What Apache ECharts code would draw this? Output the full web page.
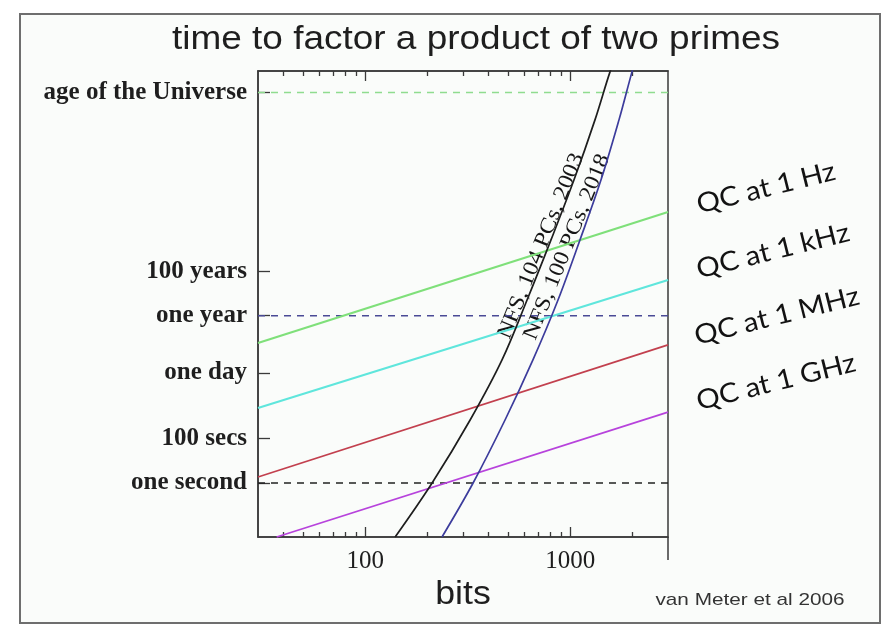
<!DOCTYPE html>
<html><head><meta charset="utf-8">
<script src="https://cdn.jsdelivr.net/npm/echarts@6/dist/echarts.min.js"></script>
<style>html,body{margin:0;padding:0;background:#fff;}#c{width:888px;height:626px;}</style>
</head><body><div id="c"></div>
<script>
// ---- data (bits on x, seconds on y) ----
const bitsRange = [30, 3000];
const timeRange = [0.0038, 2.95e18];
const xMajorTicks = [100, 1000];
const xMinorTicks = [40, 50, 60, 70, 80, 90, 200, 300, 400, 500, 600, 700, 800, 900, 2000];
const yTickValues = [1, 100, 86400, 3.156e7, 3.156e9, 3.2e17];
const yTickNames = ['one second', '100 secs', 'one day', 'one year', '100 years', 'age of the Universe'];
const refLineBits = [30, 3000];
const refLineTimes = [3.2e17, 3.156e7, 1]; // age of universe, one year, one second

const nfs2003Bits = [140, 212, 325, 465, 616, 806, 1044, 1321, 1564, 1750];
const nfs2003Time = [3.8e-3, 1, 668, 3.3e5, 1.6e8, 7.9e10, 3.9e13, 1.9e16, 2.7e18, 4.4e19];
const nfs2018Bits = [237, 336, 481, 658, 872, 1116, 1414, 1730, 2002, 2190];
const nfs2018Time = [3.8e-3, 1, 668, 3.3e5, 1.6e8, 7.9e10, 3.9e13, 1.9e16, 2.7e18, 4.4e19];

const qcBits = [30, 3000];
const qc1HzTime = [1.9e6, 1.4e12];
const qc1kHzTime = [2.3e3, 1.26e9];
const qc1MHzTime = [1.86, 1.55e6];
const qc1GHzBits = [37, 3000];
const qc1GHzTime = [3.8e-3, 1.5e3];

const qcLabels = ['QC at 1 Hz', 'QC at 1 kHz', 'QC at 1 MHz', 'QC at 1 GHz'];
const nfsLabels = ['NFS, 104 PCs, 2003', 'NFS, 100 PCs, 2018'];
const titleText = 'time to factor a product of two primes';
const xName = 'bits';
const creditText = 'van Meter et al 2006';

// ---- helpers ----
const zip = (xs, ys) => xs.map((x, i) => [x, ys[i]]);
const yName = v => {
  let best = 0, bd = Infinity;
  yTickValues.forEach((t, i) => { const d = Math.abs(Math.log10(v) - Math.log10(t)); if (d < bd) { bd = d; best = i; } });
  return yTickNames[best];
};

const chart = echarts.init(document.getElementById('c'));
const G = { left: 258, right: 220, top: 71, bottom: 89 };
const axisColor = '#3a3a3a';
const serif = 'Liberation Serif';

function lineSeries(name, xs, ys, color, width, extra) {
  return Object.assign({
    name, type: 'line', xAxisIndex: 0, yAxisIndex: 0,
    data: zip(xs, ys), showSymbol: false, symbol: 'none', clip: true,
    lineStyle: { color, width }, silent: true, animation: false
  }, extra || {});
}

const refColors = ['#8fdc8f', '#4a4a96', '#222'];

const series = [
  ...refLineTimes.map((t, i) => lineSeries('ref' + i, refLineBits, [t, t], refColors[i], 1.5,
    { lineStyle: { color: refColors[i], width: 1.6, type: [7, 6] } })),
  lineSeries(qcLabels[0], qcBits, qc1HzTime, '#7fe07a', 2.2),
  lineSeries(qcLabels[1], qcBits, qc1kHzTime, '#5fe6dc', 2.2),
  lineSeries(qcLabels[2], qcBits, qc1MHzTime, '#c2404e', 1.8),
  lineSeries(qcLabels[3], qc1GHzBits, qc1GHzTime, '#b743dc', 1.8),
  lineSeries(nfsLabels[0], nfs2003Bits, nfs2003Time, '#1e1e1e', 1.7, { smooth: 0.35 }),
  lineSeries(nfsLabels[1], nfs2018Bits, nfs2018Time, '#3c3c9c', 1.7, { smooth: 0.35 })
];

const qcPos = [[766, 188], [773, 251], [777, 316], [776, 382]];
const nfsPos = [[541, 246], [567, 247]];
const deg = Math.PI / 180;

const graphic = [
  { type: 'rect', z: -10, shape: { x: 20, y: 14, width: 860, height: 609 },
    style: { fill: '#fafcfa', stroke: '#6e6e6e', lineWidth: 2 }, silent: true },
  { type: 'line', shape: { x1: 668, y1: 537, x2: 668, y2: 560 }, style: { stroke: axisColor, lineWidth: 1.5 } },
  ...qcLabels.map((t, i) => ({
    type: 'text', x: qcPos[i][0], y: qcPos[i][1], rotation: 14 * deg, scaleX: 1.08,
    style: { text: t, fill: '#121212', font: '27px Lato', align: 'center', verticalAlign: 'middle' }
  })),
  ...nfsLabels.map((t, i) => ({
    type: 'text', x: nfsPos[i][0], y: nfsPos[i][1], rotation: 68 * deg, scaleX: 1.1,
    style: { text: t, fill: '#161616', font: '22px "Liberation Serif"', align: 'center', verticalAlign: 'middle' }
  })),
  { type: 'text', x: 476, y: 40, scaleX: 1.12, style: { text: titleText, fill: '#1e1e1e', font: '33px "Liberation Sans"', align: 'center', verticalAlign: 'middle' } },
  { type: 'text', x: 463, y: 595, scaleX: 1.05, style: { text: xName, fill: '#1e1e1e', font: '34px "Liberation Sans"', align: 'center', verticalAlign: 'middle' } },
  { type: 'text', x: 750, y: 600, scaleX: 1.22, style: { text: creditText, fill: '#333', font: '17px "Liberation Sans"', align: 'center', verticalAlign: 'middle' } }
];

function xAx(grid, pos, ticks, len, labels) {
  return {
    type: 'log', logBase: 10, min: bitsRange[0], max: bitsRange[1], gridIndex: grid, position: pos,
    axisLine: { show: grid === 0, onZero: false, lineStyle: { color: axisColor, width: 1.5 } },
    axisTick: { show: true, inside: true, length: len, customValues: ticks, lineStyle: { color: axisColor, width: 1.3 } },
    axisLabel: labels ? { show: true, customValues: ticks, margin: 12, fontFamily: serif, fontSize: 25, color: '#1e1e1e',
      formatter: v => String(Math.round(v)) } : { show: false },
    splitLine: { show: false }, minorTick: { show: false }, minorSplitLine: { show: false }
  };
}

const option = {
  backgroundColor: '#ffffff',
  animation: false,
  grid: [
    Object.assign({ show: true, borderColor: axisColor, borderWidth: 1.5, backgroundColor: 'transparent' }, G),
    Object.assign({ show: false }, G)
  ],
  xAxis: [
    xAx(0, 'bottom', xMajorTicks, 10, true),
    xAx(0, 'top', xMajorTicks, 10, false),
    xAx(1, 'bottom', xMinorTicks, 5, false),
    xAx(1, 'top', xMinorTicks, 5, false)
  ],
  yAxis: [
    { type: 'log', logBase: 10, min: timeRange[0], max: timeRange[1], gridIndex: 0, position: 'left',
      axisLine: { show: true, onZero: false, lineStyle: { color: axisColor, width: 1.5 } },
      axisTick: { show: true, inside: true, length: 12, customValues: yTickValues, lineStyle: { color: axisColor, width: 1.3 } },
      axisLabel: { show: true, customValues: yTickValues, formatter: v => yName(v), margin: 11,
        fontFamily: serif, fontSize: 25, fontWeight: 'bold', color: '#1e1e1e' },
      splitLine: { show: false }, minorTick: { show: false } },
    { type: 'log', logBase: 10, min: timeRange[0], max: timeRange[1], gridIndex: 1, show: false }
  ],
  series,
  graphic
};
chart.setOption(option);
</script></body></html>
